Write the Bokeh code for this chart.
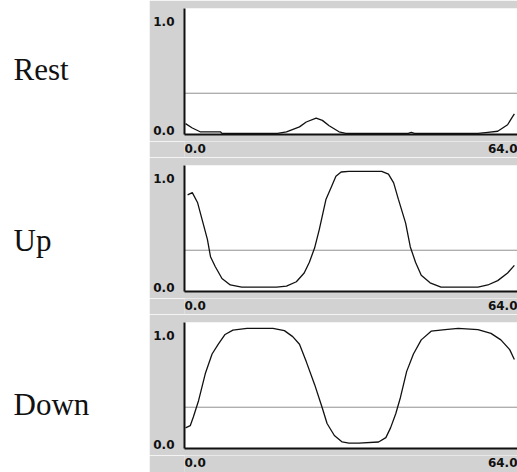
from bokeh.plotting import figure
from bokeh.layouts import row, column
from bokeh.models import Range1d, FixedTicker, PrintfTickFormatter
from bokeh.embed import file_html
from bokeh.resources import INLINE
from bokeh.core.properties import value

# ---------------- data ----------------
row_labels = ["Rest", "Up", "Down"]
x_tick_values = [0, 64]
x_tick_labels = ["0.0", "64.0"]
y_tick_values = [0, 1]
threshold = 0.34

rest_x = [0.2, 1.5, 3.0, 6.9, 7.2, 17.9, 19.6, 22.1, 23.4, 25.3, 26.5, 27.8, 29.7,
          31.0, 43.0, 43.6, 44.2, 56.4, 58.3, 60.2, 62.1, 63.0, 63.4]
rest_y = [0.06, 0.02, -0.015, -0.015, -0.03, -0.03, -0.015, 0.03, 0.075, 0.11, 0.09,
          0.04, -0.015, -0.03, -0.03, -0.02, -0.03, -0.03, -0.02, -0.01, 0.05, 0.12, 0.15]

up_x = [0.6, 1.5, 2.5, 3.4, 4.4, 5.0, 5.9, 7.2, 8.8, 11.0, 17.7, 19.6, 21.5, 23.0, 24.0,
        25.0, 25.9, 27.2, 28.2, 29.1, 30.1, 31.6, 37.9, 39.2, 40.2, 41.1, 42.5, 43.4,
        44.4, 45.5, 47.2, 49.3, 56.4, 58.3, 60.2, 62.1, 63.4]
up_y = [0.85, 0.87, 0.78, 0.62, 0.44, 0.28, 0.19, 0.08, 0.02, 0.0, 0.0, 0.01, 0.05, 0.13,
        0.23, 0.36, 0.53, 0.81, 0.92, 1.02, 1.06, 1.065, 1.065, 1.04, 0.96, 0.81, 0.59,
        0.37, 0.23, 0.11, 0.04, 0.0, 0.0, 0.02, 0.06, 0.13, 0.20]

down_x = [0.2, 1.1, 1.7, 2.7, 4.0, 5.3, 6.5, 7.8, 9.3, 12.0, 17.0, 19.2, 20.8, 22.1, 23.4,
          25.0, 26.5, 27.4, 28.8, 30.3, 31.6, 33.5, 37.3, 38.7, 39.6, 40.6, 41.5, 42.7,
          44.0, 45.5, 47.4, 50.1, 52.6, 56.4, 58.9, 60.8, 62.5, 63.4]
down_y = [0.15, 0.17, 0.25, 0.40, 0.65, 0.83, 0.92, 1.01, 1.05, 1.065, 1.065, 1.045, 0.99,
          0.92, 0.76, 0.55, 0.33, 0.19, 0.08, 0.02, 0.01, 0.01, 0.02, 0.06, 0.15, 0.28,
          0.43, 0.67, 0.83, 0.96, 1.04, 1.055, 1.065, 1.055, 1.02, 0.96, 0.87, 0.78]

series = [(rest_x, rest_y), (up_x, up_y), (down_x, down_y)]

# ---------------- styles / layout ----------------
GRAY = "#d2d2d2"
LEFT_W = 149
PANEL_W = 368
FRAME_H = 126
TOP_PAD = 8
AXIS_PAD = 7
band_heights = [16, 16, 17]
band_offsets = [-1.5, -1.5, -2.0]
label_centers = [69, 240, 404]   # pixel rows (from top) of the row names
TICK_FONT = "DejaVu Sans"


def make_panel(xs, ys):
    p = figure(width=PANEL_W, height=TOP_PAD + FRAME_H + AXIS_PAD,
               x_range=Range1d(0, 64), y_range=Range1d(-0.04, 1.12),
               output_backend="svg", toolbar_location=None,
               min_border_left=35, min_border_right=0,
               min_border_top=TOP_PAD, min_border_bottom=AXIS_PAD)
    p.border_fill_color = GRAY
    p.background_fill_color = "white"
    p.outline_line_color = None
    p.grid.visible = False

    p.xaxis.ticker = FixedTicker(ticks=[])
    p.xaxis.major_label_text_font_size = "0px"
    p.xaxis.major_tick_out = 0
    p.xaxis.major_tick_in = 0
    p.xaxis.minor_tick_out = 0
    p.xaxis.minor_tick_in = 0
    p.xaxis.axis_line_width = 2
    p.xaxis.axis_line_color = "#111111"
    p.xaxis.major_label_standoff = 0

    p.yaxis.ticker = FixedTicker(ticks=y_tick_values)
    p.yaxis.formatter = PrintfTickFormatter(format="%.1f")
    p.yaxis.major_tick_out = 0
    p.yaxis.major_tick_in = 0
    p.yaxis.minor_tick_out = 0
    p.yaxis.minor_tick_in = 0
    p.yaxis.axis_line_width = 2
    p.yaxis.axis_line_color = "#111111"
    p.yaxis.major_label_standoff = 10
    p.yaxis.major_label_text_font = TICK_FONT
    p.yaxis.major_label_text_font_size = "12px"
    p.yaxis.major_label_text_font_style = "bold"
    p.yaxis.major_label_text_color = "#111111"

    p.line([0, 64], [threshold, threshold], line_color="#222222",
           line_width=1, line_dash="1 1")
    p.line(xs, ys, line_color="#111111", line_width=1.3)
    return p


def make_band(x_range, h, off):
    b = figure(width=PANEL_W, height=h, x_range=x_range, y_range=Range1d(-1, 1),
               x_axis_type=None, y_axis_type=None,
               output_backend="svg", toolbar_location=None,
               min_border_left=35, min_border_right=0,
               min_border_top=0, min_border_bottom=0)
    b.border_fill_color = GRAY
    b.background_fill_color = GRAY
    b.outline_line_color = None
    b.grid.visible = False
    b.text(x=x_tick_values, y=[0, 0], text=x_tick_labels,
           text_align=["left", "right"], text_baseline="middle",
           y_offset=off, text_font=value(TICK_FONT), text_font_size="12px",
           text_font_style="bold", text_color="#111111")
    return b


stack = []
for (xs, ys), bh, off in zip(series, band_heights, band_offsets):
    p = make_panel(xs, ys)
    stack.append(p)
    stack.append(make_band(p.x_range, bh, off))

total_h = sum(f.height for f in stack)

left = figure(width=LEFT_W, height=total_h, x_range=Range1d(0, LEFT_W),
              y_range=Range1d(total_h, 0), x_axis_type=None, y_axis_type=None,
              output_backend="svg", toolbar_location=None, min_border=0)
left.outline_line_color = None
left.grid.visible = False
left.border_fill_color = "white"
left.background_fill_color = "white"
left.text(x=[13, 13, 13], y=label_centers, text=row_labels,
          text_font=value("Liberation Serif"), text_font_size="31px",
          text_baseline="middle", text_align="left", text_color="#111111")

layout = row(left, column(*stack, spacing=0), spacing=0)

open("out.html", "w").write(file_html(layout, INLINE))
